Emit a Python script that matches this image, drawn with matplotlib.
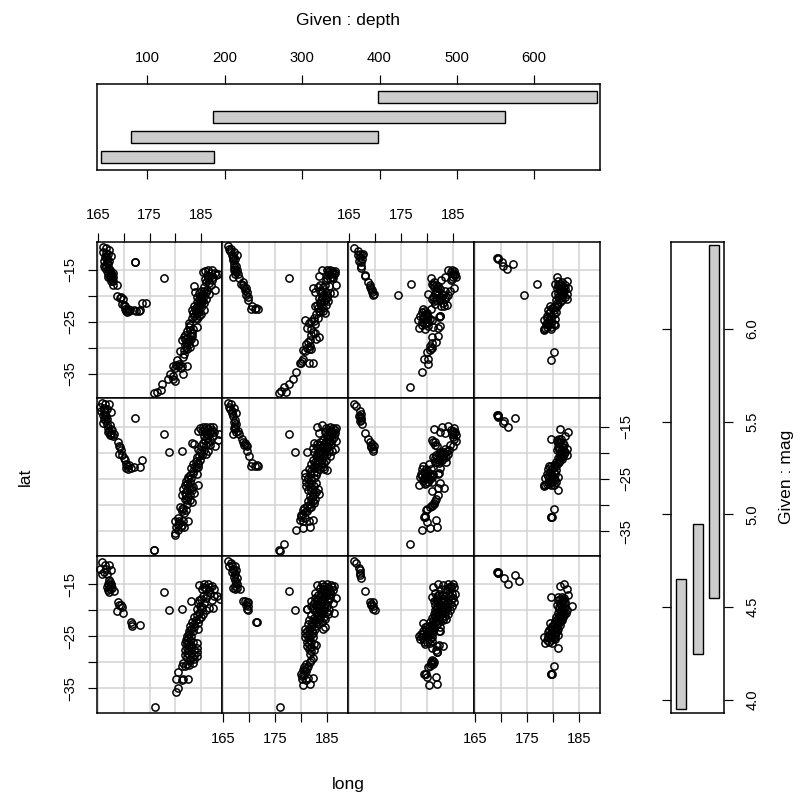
import matplotlib
matplotlib.use("Agg")
import matplotlib.pyplot as plt

plt.rcParams['font.family'] = ['Liberation Sans', 'DejaVu Sans']

# (long, lat) per panel, row 1 is the top row
p11 = [(166.0,-10.7),(166.6,-10.9),(167.2,-11.2),(166.0,-11.6),(166.5,-11.8),(167.0,-12.0),(167.6,-12.4),(166.3,-12.6),
       (166.8,-12.9),(166.2,-13.3),(166.7,-13.6),(167.1,-13.4),(166.1,-14.2),(166.6,-14.3),(166.9,-14.6),(167.2,-14.9),
       (166.8,-15.2),(167.3,-15.4),(167.6,-15.6),(167.0,-15.9),(167.4,-16.2),(167.8,-16.1),(167.3,-16.6),(167.7,-16.8),
       (168.0,-16.4),(167.6,-17.2),(168.0,-17.2),(167.9,-18.0),(168.7,-18.0),(168.7,-20.1),(169.4,-20.2),(169.8,-20.7),
       (169.6,-21.5),(170.0,-21.8),(170.3,-22.5),(170.6,-23.1),(171.3,-22.8),(171.9,-22.8),(172.9,-23.0),(173.2,-22.8),
       (173.5,-21.4),(174.3,-21.3),(170.5,-22.9),(169.2,-20.4),(172.2,-13.5),(172.2,-13.6),(177.8,-16.5),
       (188.3,-15.8),(187.7,-15.6),(187.0,-15.1),(186.4,-15.1),(185.7,-15.3),(186.1,-16.0),(186.7,-16.2),(187.3,-16.4),
       (186.4,-16.7),(187.0,-17.0),(185.7,-16.7),(186.9,-18.0),(187.6,-18.9),(183.6,-18.2),(183.8,-19.2),(184.9,-19.0),
       (185.9,-19.3),(186.5,-19.6),(185.2,-19.9),(184.6,-20.6),(185.9,-20.6),(184.2,-21.2),(185.2,-21.2),(183.6,-21.9),
       (184.6,-22.2),(185.5,-22.8),(183.3,-22.8),(184.2,-23.5),(183.6,-23.8),(184.9,-23.5),(184.2,-24.5),(182.6,-25.3),
       (182.9,-25.7),(184.1,-26.1),(182.3,-26.8),(183.3,-27.1),(181.6,-28.0),(182.3,-28.1),(183.3,-27.8),(181.3,-28.5),
       (182.6,-29.2),(183.6,-28.9),(181.9,-29.5),(182.9,-29.8),(180.9,-30.7),(181.6,-31.2),(182.3,-30.3),(181.5,-31.8),
       (180.4,-32.4),(179.5,-33.5),(180.7,-33.2),(181.3,-33.6),(182.3,-33.5),(179.9,-33.9),(179.0,-35.0),(181.4,-35.0),
       (179.6,-35.5),(180.0,-36.3),(179.6,-36.1),(178.5,-36.1),(177.5,-37.05),(177.2,-38.2),(176.4,-38.5),(175.8,-38.7),
       (184.0,-22.4),(185.0,-20.0),(184.5,-21.4),(183.9,-23.0),(184.6,-23.0),(186.2,-18.8),(185.4,-20.4)]
e11 = [(185.3,-15.5),(186.9,-15.6),(187.9,-16.0),(186.3,-16.3),(185.9,-17.4),(186.6,-17.6),(185.6,-18.4),(184.6,-19.5),
       (185.5,-19.1),(184.1,-20.3),(185.1,-20.8),(184.8,-21.8),(183.8,-22.6),(184.4,-22.8),(183.5,-23.3),(184.5,-23.9),
       (183.3,-24.2),(183.9,-24.3),(182.6,-26.0),(183.4,-26.3),(182.8,-26.6),(181.9,-27.5),(182.8,-27.5),(181.9,-28.4),
       (182.6,-28.5),(183.0,-28.3),(182.2,-29.1),(181.6,-30.5),(182.0,-29.9),(180.6,-33.6),(180.1,-33.4),(181.0,-33.9),
       (166.5,-12.4),(166.9,-13.9),(166.4,-14.7),(167.4,-15.0),(167.0,-16.4),(167.9,-15.7),(170.2,-22.0),(170.9,-22.6),
       (171.0,-23.0),(172.3,-22.9),(184.3,-23.1),(185.0,-22.2),(185.5,-21.4),(184.9,-20.5)]
p12 = [(166.0,-10.5),(166.5,-11.1),(167.1,-11.6),(166.1,-11.0),(166.6,-12.2),(167.6,-12.1),(166.9,-13.2),(167.4,-14.2),
       (167.1,-15.1),(167.8,-15.8),(166.9,-16.4),(168.0,-16.6),(168.5,-17.7),(169.0,-18.3),(169.5,-19.3),(169.7,-20.3),
       (169.8,-20.9),(170.6,-21.9),(170.3,-22.6),(171.2,-22.6),(171.7,-22.5),(171.4,-22.4),(167.0,-13.8),(167.3,-14.8),
       (167.5,-15.4),(166.8,-12.7),(168.8,-18.0),(169.2,-18.8),(169.4,-19.8),(177.7,-16.5),
       (184.1,-15.0),(183.4,-16.2),(184.9,-15.1),(185.5,-15.1),(186.0,-15.2),(186.6,-15.2),(186.4,-15.9),(185.6,-15.8),
       (184.9,-16.0),(186.2,-16.6),(185.5,-16.6),(184.7,-17.0),(186.8,-17.9),(186.3,-19.4),(182.3,-18.5),(182.6,-19.2),
       (183.3,-18.3),(184.2,-18.4),(185.3,-18.2),(184.0,-19.3),(184.8,-19.3),(185.5,-19.4),(185.0,-20.2),(184.1,-20.2),
       (183.5,-20.5),(184.4,-21.1),(185.2,-21.0),(183.6,-21.4),(182.6,-21.9),(183.3,-22.4),(184.2,-22.4),(183.7,-23.2),
       (184.6,-23.3),(182.8,-23.6),(183.3,-24.2),(180.8,-24.6),(182.4,-24.8),(181.6,-25.2),(181.2,-26.2),(182.6,-25.4),
       (181.9,-26.3),(182.0,-27.6),(182.6,-27.2),(183.5,-28.0),(181.8,-28.5),(182.9,-28.4),(181.0,-29.2),(181.8,-29.6),
       (182.0,-30.3),(180.4,-30.5),(181.1,-30.0),(180.4,-32.2),(179.8,-33.0),(180.1,-32.6),(179.9,-32.9),(182.3,-33.0),
       (181.5,-33.0),(179.1,-34.7),(178.5,-36.1),(177.6,-37.0),(176.7,-37.6),(176.2,-38.4),(175.8,-38.7),(177.1,-38.5)]
e12 = [(166.3,-11.4),(166.9,-12.4),(167.2,-13.0),(167.1,-14.5),(167.6,-15.0),(167.3,-15.9),(168.8,-17.4),(169.4,-18.5),
       (185.2,-15.5),(185.9,-15.6),(186.6,-15.7),(185.9,-16.3),(185.0,-16.6),(183.7,-17.9),(184.6,-17.9),(183.6,-19.0),
       (184.3,-19.8),(184.9,-19.8),(183.9,-20.9),(184.7,-20.7),(183.1,-21.8),(183.9,-21.9),(184.7,-21.8),(183.4,-22.9),
       (184.2,-23.0),(182.4,-24.2),(181.9,-24.9),(182.2,-26.9),(181.4,-28.9),(181.5,-30.2),(180.7,-30.7)]
p13 = [(166.0,-10.8),(166.7,-11.3),(167.6,-11.9),(166.7,-12.2),(167.1,-12.6),(167.4,-13.0),(166.9,-13.4),(167.3,-14.2),
       (167.2,-14.7),(168.0,-16.1),(168.1,-16.2),(168.6,-17.4),(169.0,-18.0),(169.2,-18.7),(169.4,-19.3),(169.7,-19.6),
       (169.6,-19.9),(177.0,-17.7),(174.4,-19.9),(180.3,-19.7),(184.1,-15.0),(180.8,-16.5),(184.7,-15.4),(185.4,-15.8),
       (185.7,-16.4),(185.1,-16.4),(184.6,-17.0),(183.5,-16.3),(182.7,-17.0),(181.0,-17.7),(181.4,-18.3),(181.9,-19.0),
       (182.5,-18.7),(183.5,-19.0),(185.3,-18.5),(184.4,-19.0),(184.1,-19.8),(183.1,-19.9),(182.2,-19.9),(181.2,-20.3),
       (181.7,-20.9),(182.5,-20.9),(183.5,-20.6),(183.8,-21.7),(182.8,-22.0),(181.5,-21.5),(184.9,-15.0),(185.0,-15.8),
       (181.3,-17.4),(181.7,-18.0),(182.2,-18.2),(182.9,-19.6),(181.6,-19.6),(180.9,-20.7),(183.2,-21.3),(183.3,-22.0),
       (179.2,-22.6),(180.7,-22.6),(179.6,-23.5),(178.7,-23.8),(178.3,-24.6),(179.3,-24.4),(180.3,-24.1),(179.6,-25.4),
       (180.3,-25.0),(178.5,-26.2),(179.7,-26.3),(181.2,-26.0),(182.5,-25.8),(182.1,-26.2),(182.5,-23.9),(182.4,-24.0),
       (182.6,-23.8),(180.9,-24.7),(179.0,-23.2),(180.0,-23.3),(179.0,-25.0),(179.9,-24.5),(181.0,-28.0),
       (182.1,-27.8),(181.7,-28.9),(180.9,-29.0),(181.0,-30.0),(180.1,-30.8),(180.6,-30.5),(179.5,-32.2),(180.3,-32.2),
       (180.3,-33.2),(179.1,-34.7),(176.7,-37.6)]
e13 = [(167.1,-12.0),(167.4,-12.2),(167.2,-13.6),(169.1,-18.3),(169.4,-18.9),(185.3,-15.2),(185.5,-16.1),(184.9,-16.7),
       (181.2,-17.9),(182.0,-18.6),(181.8,-19.3),(182.7,-20.4),(183.7,-20.2),(182.0,-20.4),(181.4,-21.0),(179.7,-23.0),
       (180.1,-23.9),(179.2,-24.0),(179.9,-25.1),(180.6,-24.5),(179.1,-25.7),(180.2,-25.8),(180.8,-30.1),(180.5,-29.6)]
p14 = [(169.4,-12.8),(169.5,-13.0),(169.3,-12.7),(170.3,-13.5),(170.4,-14.3),(171.2,-14.9),(172.4,-13.9),(176.9,-17.7),
       (174.4,-19.9),(180.7,-16.4),(182.6,-17.1),(180.3,-17.7),(181.0,-18.0),(181.7,-17.4),(182.3,-18.0),(182.8,-18.5),
       (180.4,-19.6),(181.3,-19.0),(182.0,-19.3),(182.6,-19.6),(182.6,-20.6),(181.7,-20.9),(181.0,-21.5),(180.4,-21.9),
       (179.4,-21.9),(179.1,-22.8),(180.1,-22.8),(178.8,-23.8),(179.7,-23.8),(178.3,-24.7),(179.2,-24.7),(180.4,-24.4),
       (180.1,-25.4),(179.1,-25.7),(180.4,-25.7),(178.3,-26.5),(178.3,-26.4),(178.4,-26.2),(179.7,-26.3),(180.1,-30.8),
       (179.6,-32.3),(181.0,-17.2),(181.5,-18.6),(180.7,-18.6),(181.8,-20.1),(181.0,-20.3),(180.6,-20.8),(180.0,-22.3),
       (179.5,-23.2),(180.5,-23.2),(179.0,-25.2),(179.6,-26.0),(182.2,-19.0),(181.3,-19.8)]
e14 = [(181.4,-17.8),(181.9,-18.4),(181.1,-18.5),(182.3,-18.7),(182.0,-19.8),(182.3,-20.2),(181.4,-20.5),(181.4,-21.2),
       (180.7,-22.0),(180.8,-21.3),(179.8,-22.4),(179.2,-23.3),(180.1,-23.6),(178.9,-24.3),(179.7,-24.5),(179.7,-25.3),
       (178.7,-25.4),(178.8,-26.0),(181.6,-19.2),(180.9,-19.4)]
p21 = [(165.8,-10.5),(166.4,-10.7),(167.1,-10.8),(165.5,-11.2),(166.2,-11.4),(166.8,-11.6),(165.6,-12.0),(166.4,-12.3),
       (167.6,-12.2),(165.9,-12.8),(166.6,-13.0),(166.2,-13.5),(166.8,-13.6),(166.0,-14.3),(166.7,-14.5),(167.3,-14.7),
       (167.0,-15.3),(167.5,-15.5),(167.0,-16.0),(167.6,-16.2),(168.1,-16.4),(167.3,-16.7),(167.9,-16.9),(168.8,-18.0),
       (169.0,-18.8),(169.5,-19.4),(169.0,-20.2),(169.7,-20.5),(170.3,-21.3),(170.5,-22.2),(170.4,-23.0),(170.8,-23.2),
       (171.4,-23.0),(171.9,-22.7),(170.7,-22.6),(171.0,-22.4),(172.2,-13.4),(177.8,-16.4),(178.8,-19.9),(181.3,-19.7),
       (183.3,-18.2),(183.6,-18.3),(173.5,-21.3),(173.2,-22.8),
       (184.4,-15.8),(184.7,-15.2),(185.3,-15.1),(186.0,-15.0),(186.7,-15.0),(187.3,-15.1),(185.2,-15.9),(186.0,-15.9),
       (186.8,-15.9),(187.5,-16.0),(188.4,-16.5),(185.5,-16.8),(186.4,-16.7),(187.3,-16.9),(188.2,-17.6),(186.7,-17.6),
       (185.7,-17.6),(187.6,-18.8),(186.8,-18.6),(185.9,-18.6),(185.0,-18.7),(184.3,-19.3),(185.6,-19.5),(186.4,-19.6),
       (185.2,-20.4),(184.5,-20.6),(184.8,-21.3),(183.9,-21.5),(183.4,-22.2),(184.4,-22.2),(183.1,-23.0),(184.0,-23.0),
       (183.4,-23.8),(184.1,-24.0),(182.4,-24.6),(183.1,-24.8),(182.0,-25.4),(182.8,-25.6),(184.3,-26.1),(181.8,-26.2),
       (182.6,-26.4),(183.5,-26.5),(181.5,-27.0),(182.3,-27.2),(183.3,-27.2),(181.3,-28.0),(182.0,-28.0),(182.9,-28.0),
       (183.7,-27.7),(181.8,-28.8),(182.8,-29.0),(183.2,-29.4),(182.2,-29.7),(180.9,-30.3),(181.5,-30.5),(182.0,-31.0),
       (181.2,-31.2),(181.6,-31.5),(180.5,-32.5),(179.9,-33.0),(180.8,-33.0),(181.4,-33.0),(182.5,-33.0),(180.5,-33.8),
       (181.2,-33.8),(181.7,-34.2),(180.6,-34.7),(179.9,-35.7),(180.0,-35.4),(175.8,-38.6),(175.9,-38.6)]
e21 = [(166.1,-11.9),(166.3,-12.8),(166.5,-14.0),(167.2,-15.9),(167.8,-15.7),(167.6,-16.6),(169.3,-19.0),(170.0,-21.0),
       (185.6,-15.5),(186.4,-15.5),(187.1,-15.6),(186.7,-16.3),(186.0,-16.4),(186.2,-17.2),(185.3,-18.1),(186.3,-18.0),
       (184.7,-19.6),(185.0,-20.0),(185.9,-20.2),(184.2,-20.8),(184.4,-21.9),(183.8,-22.5),(184.4,-22.7),(183.5,-23.4),
       (182.9,-24.3),(182.4,-25.1),(182.3,-25.9),(182.9,-26.9),(181.9,-27.6),(182.5,-28.4),(182.3,-29.0),(181.3,-30.8),
       (180.7,-33.4),(181.0,-34.1),(180.2,-34.2)]
p22 = [(166.0,-10.5),(166.5,-10.8),(167.1,-11.5),(166.1,-11.3),(166.6,-12.1),(167.5,-12.4),(166.9,-13.0),(167.3,-13.8),
       (167.5,-14.6),(167.0,-15.3),(166.9,-16.4),(167.9,-15.8),(168.0,-16.5),(168.6,-17.3),(169.2,-18.2),(169.6,-18.8),
       (169.0,-18.5),(169.5,-19.6),(170.0,-20.6),(170.6,-21.9),(170.3,-22.6),(171.2,-22.5),(171.7,-22.5),(171.5,-22.4),
       (177.7,-16.4),(178.8,-19.9),(181.2,-19.8),
       (183.1,-15.1),(184.1,-14.8),(183.5,-16.3),(184.8,-15.2),(185.5,-15.1),(186.2,-15.2),(186.8,-15.2),(184.6,-16.0),
       (185.4,-16.0),(186.1,-16.1),(186.6,-16.2),(184.9,-16.9),(185.6,-16.9),(186.3,-17.0),(186.8,-17.8),(185.5,-17.7),
       (184.7,-17.8),(183.7,-18.0),(182.5,-18.2),(183.0,-18.3),(186.5,-19.3),(185.7,-18.6),(184.9,-18.7),(184.0,-18.9),
       (183.1,-19.0),(182.3,-19.1),(182.4,-19.8),(183.4,-19.8),(184.5,-19.6),(185.3,-19.7),(186.0,-19.6),(185.5,-20.6),
       (184.5,-20.5),(183.6,-20.5),(182.8,-20.6),(182.3,-21.4),(183.2,-21.4),(184.1,-21.4),(184.8,-21.4),(182.0,-22.2),
       (182.9,-22.2),(183.8,-22.2),(184.9,-23.3),(184.4,-23.2),(183.4,-23.2),(182.4,-23.0),(181.5,-23.2),(180.8,-23.8),
       (181.8,-24.0),(182.8,-24.2),(180.7,-24.6),(181.4,-24.8),(182.4,-24.9),(181.0,-25.6),(182.0,-25.7),(182.8,-25.7),
       (181.0,-26.3),(181.8,-26.5),(181.4,-27.2),(182.3,-27.0),(183.2,-26.9),(183.5,-27.8),(182.4,-27.8),(181.7,-28.2),
       (182.0,-28.8),(182.7,-28.8),(182.5,-29.6),(181.7,-29.8),(181.2,-30.2),(180.6,-30.6),(181.6,-30.6),(180.3,-31.0),
       (181.1,-31.1),(180.4,-31.7),(179.9,-32.2),(179.8,-32.9),(180.3,-33.1),(180.7,-32.5),(181.5,-33.0),(182.3,-32.9),
       (181.8,-34.2),(180.4,-34.4),(179.0,-34.7),(176.7,-37.4),(175.8,-38.6),(175.9,-38.7)]
e22 = [(166.4,-11.6),(166.7,-12.5),(167.0,-14.2),(167.3,-14.9),(167.3,-15.5),(167.5,-16.1),(169.3,-18.6),(168.9,-17.9),
       (185.1,-15.6),(185.8,-15.6),(186.5,-15.7),(185.1,-16.4),(185.9,-16.5),(186.0,-17.5),(185.2,-17.3),(184.2,-17.6),
       (183.6,-18.5),(184.4,-18.4),(185.3,-18.2),(183.7,-19.4),(184.9,-19.1),(184.0,-19.9),(183.2,-20.1),(184.9,-20.2),
       (183.0,-20.9),(184.3,-20.9),(182.7,-21.7),(183.5,-21.8),(184.4,-21.9),(182.5,-22.6),(183.3,-22.7),(184.2,-22.7),
       (181.9,-23.5),(182.4,-23.6),(183.1,-23.7),(182.0,-25.1),(181.5,-26.0),(182.4,-26.3),(181.9,-27.3),(182.9,-27.4),
       (182.2,-28.2),(182.2,-29.2),(181.4,-29.2),(181.9,-30.3),(180.8,-31.4),(180.0,-31.9)]
p23 = [(166.0,-10.7),(166.4,-11.0),(167.0,-12.0),(167.2,-12.6),(166.9,-13.0),(167.2,-13.4),(167.0,-14.0),(167.4,-14.5),
       (168.1,-16.3),(168.6,-17.4),(169.0,-17.9),(169.4,-18.4),(169.7,-18.8),(169.2,-19.0),(169.5,-19.7),
       (181.3,-15.4),(183.0,-15.1),(184.1,-14.9),(185.2,-15.3),(184.6,-15.7),(185.4,-16.0),(184.8,-16.5),(185.6,-16.6),
       (182.6,-16.0),(183.5,-16.2),(185.3,-17.3),(185.6,-17.8),(181.0,-17.6),(181.5,-18.0),(182.0,-18.7),(184.4,-18.5),
       (185.0,-18.8),(183.5,-19.3),(184.3,-19.5),(182.6,-19.8),(183.4,-20.1),(184.1,-20.2),(181.8,-20.4),(182.6,-20.6),
       (183.6,-20.9),(181.2,-20.9),(182.0,-21.2),(182.9,-21.4),(183.6,-21.7),(181.5,-21.8),(182.4,-22.0),
       (179.2,-22.5),(180.4,-22.2),(179.0,-23.2),(179.9,-23.2),(180.8,-23.2),(182.6,-23.0),(182.4,-23.8),(182.2,-24.0),
       (178.8,-24.0),(179.6,-24.0),(180.5,-24.0),(181.2,-24.0),(178.7,-24.7),(179.4,-24.8),(180.3,-24.8),(181.0,-24.6),
       (179.3,-25.4),(180.2,-25.5),(181.0,-25.6),(178.5,-26.2),(179.6,-26.0),(182.6,-25.7),(183.3,-26.7),(181.0,-27.3),
       (182.2,-26.8),(182.1,-28.1),(181.7,-28.8),(181.5,-29.3),(181.0,-30.0),(181.3,-29.8),(180.6,-30.4),(180.1,-30.8),
       (179.9,-30.9),(179.6,-32.2),(179.5,-32.3),(179.7,-32.1),(181.7,-32.8),(180.1,-33.2),(181.9,-34.2),(180.5,-34.4),
       (179.1,-34.7),(176.7,-37.5)]
e23 = [(167.1,-12.9),(167.2,-13.8),(169.3,-18.7),(169.5,-19.2),(185.0,-15.8),(185.3,-16.3),(185.1,-17.0),(181.2,-18.0),
       (181.6,-18.5),(182.9,-20.2),(183.2,-19.8),(183.9,-19.7),(182.3,-20.2),(181.6,-21.0),(182.4,-21.3),(183.2,-21.1),
       (182.0,-21.8),(179.4,-23.6),(180.3,-23.6),(179.0,-24.4),(179.9,-24.4),(180.7,-24.4),(179.7,-25.1),(180.6,-25.0),
       (179.8,-25.7),(181.3,-29.5),(180.9,-30.2)]
p24 = [(169.4,-12.9),(169.5,-13.1),(169.3,-12.8),(169.5,-12.8),(170.6,-13.9),(170.4,-14.4),(171.3,-15.0),(172.7,-13.3),
       (181.3,-15.4),(182.8,-16.0),(182.4,-16.9),(179.6,-17.4),(180.8,-17.6),(181.5,-17.4),(181.0,-18.2),(181.9,-18.1),
       (181.2,-18.9),(182.0,-19.0),(182.7,-19.2),(180.8,-19.5),(181.6,-19.7),(182.4,-19.9),(182.7,-20.4),(181.3,-20.4),
       (182.0,-20.7),(181.0,-21.1),(181.8,-21.2),(180.6,-21.7),(181.2,-21.8),(179.3,-22.5),(180.1,-22.3),(180.6,-22.6),
       (179.0,-23.2),(179.8,-23.2),(180.5,-23.3),(178.9,-24.0),(179.6,-24.0),(180.3,-24.1),(178.5,-24.8),(179.3,-24.8),
       (180.1,-24.8),(180.9,-24.7),(179.0,-25.5),(179.8,-25.6),(180.6,-25.5),(178.3,-26.2),(178.3,-26.3),(178.4,-26.1),
       (179.6,-26.2),(180.2,-26.1),(180.9,-27.2),(180.1,-30.7),(179.7,-32.2),(179.6,-32.3),(179.8,-32.2)]
e24 = [(181.1,-17.3),(181.4,-17.9),(180.9,-17.9),(181.6,-18.5),(182.2,-18.6),(181.0,-19.0),(181.9,-19.4),(181.2,-19.5),
       (182.1,-20.2),(181.6,-20.3),(181.4,-20.9),(181.3,-21.4),(180.9,-21.9),(180.4,-22.4),(179.7,-22.6),(179.4,-23.6),
       (180.2,-23.7),(179.0,-24.4),(179.9,-24.4),(179.4,-25.2),(180.3,-25.2),(179.3,-26.0),(178.8,-25.9)]
p31 = [(165.7,-10.7),(166.3,-11.3),(167.2,-11.3),(165.5,-12.0),(166.5,-12.0),(167.6,-12.3),(165.7,-13.0),(166.8,-13.1),
       (166.2,-12.6),(167.1,-14.2),(167.6,-14.9),(166.8,-15.5),(167.8,-15.8),(167.2,-16.5),(168.1,-16.3),(167.0,-14.9),
       (167.4,-15.4),(167.0,-16.2),(168.9,-18.5),(169.4,-19.0),(169.7,-19.4),(168.7,-20.2),(169.8,-20.6),(169.1,-18.9),
       (171.5,-22.2),(171.7,-23.1),(171.6,-22.6),(173.2,-22.8),(177.8,-16.5),(178.8,-20.0),(181.3,-19.8),(183.1,-18.3),
       (176.0,-38.6),
       (184.6,-15.2),(185.6,-15.0),(186.3,-15.0),(187.0,-15.4),(187.4,-16.0),(185.2,-16.0),(186.0,-15.9),(186.6,-16.2),
       (186.2,-17.0),(187.4,-17.2),(188.7,-17.8),(188.0,-17.2),(185.0,-17.8),(186.0,-17.7),(187.0,-18.0),(184.3,-18.6),
       (185.6,-18.6),(187.3,-19.6),(186.5,-19.6),(184.2,-19.8),(185.0,-19.8),(185.9,-20.0),(184.6,-20.6),(185.4,-20.8),
       (183.6,-21.3),(184.6,-21.6),(183.2,-22.3),(184.3,-22.4),(182.9,-23.0),(183.7,-23.2),(184.4,-23.6),(182.6,-23.9),
       (183.4,-24.0),(182.3,-24.9),(183.0,-24.9),(182.0,-25.7),(182.9,-25.8),(182.2,-26.5),(183.0,-26.6),(184.2,-26.3),
       (182.2,-27.3),(183.0,-27.3),(184.1,-27.2),(182.3,-28.2),(183.1,-28.2),(184.1,-28.0),(182.3,-29.0),(183.2,-29.0),
       (184.2,-28.7),(181.5,-30.1),(182.3,-30.3),(183.4,-30.1),(180.6,-31.9),(181.2,-30.6),(180.1,-33.1),(181.5,-33.1),
       (182.5,-33.1),(181.3,-33.4),(180.6,-34.9),(180.1,-35.7)]
e31 = [(167.3,-14.6),(167.5,-15.2),(167.4,-16.0),(185.5,-15.5),(186.7,-15.6),(186.8,-16.7),(185.4,-17.3),(184.6,-18.1),
       (184.7,-19.2),(185.2,-19.3),(184.2,-21.0),(185.0,-21.2),(183.9,-21.9),(183.6,-22.7),(183.1,-23.6),(182.6,-24.5),
       (182.5,-25.4),(182.5,-26.1),(182.6,-26.9),(182.5,-27.7),(182.6,-28.6),(182.8,-29.6),(181.9,-30.6),(182.7,-30.5),
       (183.5,-26.0),(183.6,-27.7),(181.8,-26.2),(181.9,-27.7),(181.9,-28.6),(183.7,-28.6),(183.6,-29.4)]
p32 = [(166.0,-10.6),(166.5,-10.9),(167.3,-11.5),(166.1,-11.5),(166.9,-12.0),(167.5,-12.3),(166.7,-12.7),(167.3,-13.0),
       (167.0,-13.6),(167.6,-13.9),(167.4,-14.6),(167.6,-15.0),(166.9,-15.7),(167.6,-15.8),(168.2,-15.9),(168.9,-18.2),
       (169.2,-18.2),(169.7,-18.4),(169.3,-18.9),(169.7,-19.1),(169.5,-19.7),(169.8,-20.0),(171.4,-22.2),(171.5,-22.3),
       (177.7,-16.4),(178.8,-20.0),(181.2,-19.8),(176.0,-38.6),
       (183.0,-15.2),(184.0,-15.0),(184.9,-15.0),(185.7,-15.2),(186.4,-15.4),(183.7,-15.8),(184.5,-15.9),(185.3,-16.0),
       (186.1,-16.1),(182.7,-16.7),(183.8,-16.6),(184.9,-16.7),(185.8,-16.8),(186.7,-17.6),(182.6,-17.6),(183.6,-17.5),
       (184.6,-17.5),(185.6,-17.6),(181.9,-18.2),(183.0,-18.3),(184.1,-18.3),(185.2,-18.3),(186.2,-18.7),(181.9,-19.2),
       (182.9,-19.1),(183.9,-19.2),(185.0,-19.2),(181.2,-19.8),(182.4,-20.0),(183.4,-20.0),(184.4,-20.0),(185.3,-20.0),
       (186.4,-20.6),(182.0,-20.9),(183.0,-20.9),(184.0,-20.8),(185.1,-20.8),(181.6,-21.8),(182.6,-21.8),(183.6,-21.7),
       (184.6,-21.6),(181.3,-22.7),(182.3,-22.6),(183.3,-22.6),(184.6,-23.3),(180.8,-23.5),(181.7,-23.5),(182.6,-23.5),
       (184.2,-23.5),(180.8,-24.4),(181.6,-24.4),(182.3,-24.3),(180.8,-25.2),(181.6,-25.2),(182.2,-25.2),(181.1,-26.0),
       (181.9,-26.1),(181.1,-26.9),(182.0,-27.0),(182.9,-26.7),(182.4,-27.7),(181.8,-28.4),(182.2,-29.2),(181.7,-30.0),
       (181.0,-30.3),(180.6,-30.8),(181.2,-31.1),(180.3,-31.5),(180.8,-31.5),(179.9,-32.2),(180.5,-32.4),(180.2,-33.1),
       (181.4,-33.0),(182.2,-33.0),(181.0,-33.4),(180.4,-34.4),(181.8,-34.2)]
e32 = [(166.6,-11.4),(167.0,-12.4),(167.2,-14.2),(167.3,-15.3),(167.2,-16.0),(169.5,-18.5),(184.4,-15.4),(185.1,-15.5),
       (185.9,-15.6),(184.2,-16.2),(185.0,-16.3),(185.6,-16.4),(183.3,-17.0),(184.4,-17.1),(185.3,-17.1),(183.1,-17.8),
       (184.1,-17.9),(185.1,-17.8),(182.5,-18.7),(183.5,-18.8),(184.6,-18.8),(182.3,-19.6),(183.4,-19.5),(184.5,-19.5),
       (182.9,-20.4),(183.9,-20.3),(184.9,-20.4),(182.5,-21.4),(183.5,-21.3),(184.5,-21.2),(182.1,-22.2),(183.1,-22.2),
       (184.1,-22.2),(181.9,-23.0),(182.9,-23.0),(181.2,-24.0),(182.1,-23.9),(181.2,-24.8),(181.9,-24.8),(181.5,-25.7),
       (181.5,-26.5),(182.5,-26.4),(181.6,-27.4),(182.0,-27.9),(181.9,-29.6),(181.4,-30.7),(181.0,-31.6),(180.2,-32.6)]
p33 = [(166.0,-10.6),(166.3,-10.9),(166.9,-11.9),(167.0,-12.2),(167.1,-12.9),(167.0,-13.3),(167.2,-13.9),(168.1,-16.3),
       (169.0,-18.5),(169.5,-18.5),(169.2,-19.0),(169.6,-19.2),(169.6,-19.8),(169.9,-19.9),(169.3,-18.8),
       (181.1,-15.5),(182.1,-15.0),(183.2,-15.2),(184.0,-15.0),(185.0,-15.0),(185.3,-15.6),(184.6,-15.8),(182.8,-16.0),
       (183.9,-16.2),(185.4,-16.9),(184.8,-16.9),(181.5,-16.7),(182.4,-16.8),(183.2,-17.0),(181.0,-17.5),(182.0,-17.7),
       (183.0,-17.7),(184.0,-17.7),(185.1,-17.7),(181.3,-18.3),(182.2,-18.5),(183.1,-18.5),(184.1,-18.5),(185.2,-18.4),
       (182.0,-19.3),(182.9,-19.3),(183.8,-19.3),(184.8,-19.2),(181.6,-20.0),(182.5,-20.0),(183.4,-20.0),(184.4,-20.0),
       (181.3,-20.7),(182.2,-20.7),(183.0,-20.8),(184.0,-20.8),(181.0,-21.5),(181.9,-21.5),(182.9,-21.5),(183.7,-21.6),
       (180.6,-22.3),(181.6,-22.2),(182.4,-22.3),(179.2,-22.5),(180.0,-23.0),(180.9,-23.0),(182.5,-23.2),(179.8,-23.7),
       (180.6,-23.7),(181.3,-23.6),(182.5,-24.0),(182.3,-23.9),(179.3,-24.5),(180.2,-24.4),(181.0,-24.5),(178.4,-25.0),
       (179.1,-25.2),(180.0,-25.2),(180.9,-25.1),(179.4,-26.0),(180.1,-26.0),(181.0,-25.9),(181.0,-27.3),(183.2,-26.8),
       (182.3,-26.6),(181.9,-26.9),(181.7,-27.6),(181.9,-28.1),(182.0,-28.0),(181.0,-29.5),(181.3,-29.9),(180.8,-30.0),
       (181.1,-30.3),(180.2,-30.9),(180.6,-30.7),(179.6,-32.3),(179.8,-32.2),(179.5,-32.2),(180.1,-32.8),(181.7,-32.8),
       (181.9,-34.1),(180.4,-34.4)]
e33 = [(184.7,-15.3),(184.2,-15.6),(183.5,-16.0),(184.3,-16.7),(181.9,-17.2),(183.6,-17.3),(184.5,-17.2),(181.7,-18.0),
       (182.6,-18.0),(183.5,-18.0),(184.6,-18.0),(181.6,-18.9),(182.5,-18.9),(183.4,-18.9),(184.4,-18.8),(182.0,-19.7),
       (183.0,-19.7),(183.9,-19.7),(181.8,-20.4),(182.7,-20.4),(183.5,-20.4),(181.5,-21.1),(182.4,-21.1),(183.4,-21.1),
       (181.2,-21.9),(182.1,-21.9),(183.1,-21.9),(180.9,-22.6),(181.9,-22.7),(179.6,-23.3),(180.4,-23.3),(181.2,-23.2),
       (179.2,-24.0),(180.2,-24.0),(180.9,-24.0),(178.9,-24.6),(179.8,-24.7),(180.6,-24.8),(179.5,-25.5),(180.5,-25.5),
       (178.7,-25.5),(179.7,-26.4),(180.6,-26.3),(181.2,-29.7),(180.7,-30.3)]
p34 = [(169.4,-12.8),(169.5,-12.9),(169.3,-12.7),(169.5,-12.7),(170.6,-13.8),(171.3,-14.9),(172.7,-13.3),(173.4,-14.3),
       (181.3,-15.4),(182.1,-15.0),(182.6,-15.9),(182.9,-17.0),(179.6,-17.4),(183.7,-19.2),
       (180.9,-17.4),(181.7,-17.4),(182.2,-17.7),(181.0,-18.1),(181.8,-18.2),(182.4,-18.5),(180.8,-19.0),(181.6,-19.0),
       (182.4,-19.3),(181.2,-19.8),(182.0,-19.9),(182.6,-20.0),(181.0,-20.6),(181.8,-20.7),(182.5,-20.6),(180.6,-21.3),
       (181.4,-21.3),(182.0,-21.3),(180.3,-22.0),(181.0,-22.0),(181.7,-21.9),(179.4,-22.5),(180.1,-22.7),(180.9,-22.7),
       (181.4,-22.8),(179.6,-23.4),(180.4,-23.4),(181.0,-23.5),(179.1,-24.1),(179.9,-24.1),(180.6,-24.2),(181.0,-24.7),
       (178.3,-25.1),(179.0,-24.9),(179.7,-25.0),(180.4,-24.9),(178.9,-25.7),(179.6,-25.7),(180.3,-25.6),(178.4,-26.2),
       (179.8,-26.3),(180.9,-27.2),(180.1,-30.7),(179.7,-32.2),(179.6,-32.3),(179.8,-32.2)]
e34 = [(181.3,-17.8),(182.0,-18.0),(181.4,-18.6),(182.1,-18.7),(181.2,-19.4),(182.0,-19.5),(181.5,-20.2),(182.2,-20.3),
       (181.3,-20.9),(182.1,-21.0),(180.8,-21.6),(181.6,-21.7),(180.7,-22.3),(181.4,-22.3),(179.9,-23.0),(180.7,-23.0),
       (179.3,-23.8),(180.1,-23.8),(180.8,-23.9),(179.4,-24.5),(180.3,-24.5),(179.3,-25.3),(180.1,-25.3),(179.2,-26.0)]

panels = [[p11 + e11, p12 + e12, p13 + e13, p14 + e14],
          [p21 + e21, p22 + e22, p23 + e23, p24 + e24],
          [p31 + e31, p32 + e32, p33 + e33, p34 + e34]]

long_ticks = [165, 170, 175, 180, 185]
long_labels = ['165', '', '175', '', '185']
lat_ticks = [-15, -20, -25, -30, -35]
lat_labels = ['\u221215', '', '\u221225', '', '\u221235']

depth_low = [39.5, 78.5, 184.5, 397.5]
depth_high = [186.5, 397.5, 562.5, 680.5]
depth_ticks = [100, 200, 300, 400, 500, 600]
mag_low = [3.95, 4.25, 4.55]
mag_high = [4.65, 4.95, 6.45]
mag_ticks = [4.0, 4.5, 5.0, 5.5, 6.0]

W, H = 800, 801
fig = plt.figure(figsize=(W / 100, H / 100), dpi=100)

TICK = 6.5
LW = 1.1
FS = 10.6


def px_axes(x0, x1, y0, y1):
    # pixel box, y measured from the top of the picture
    ax = fig.add_axes([x0 / W, 1 - y1 / H, (x1 - x0) / W, (y1 - y0) / H])
    for s in ax.spines.values():
        s.set_linewidth(LW)
    ax.tick_params(length=TICK, width=0.85, labelsize=FS, pad=7.5)
    return ax


x_edges = [96.7, 222, 348, 473.7, 600]
y_edges = [241.7, 398.2, 556, 713]

for r in range(3):
    for c in range(4):
        ax = px_axes(x_edges[c], x_edges[c + 1], y_edges[r], y_edges[r + 1])
        ax.set_xlim(164.77, 189.03)
        ax.set_ylim(-39.7, -9.6)
        ax.set_xticks(long_ticks)
        ax.set_yticks(lat_ticks)
        ax.grid(True, color='lightgray', lw=1.1)
        ax.set_axisbelow(True)
        lon = [p[0] for p in panels[r][c]]
        lat = [p[1] for p in panels[r][c]]
        ax.plot(lon, lat, 'o', mfc='none', mec='black', ms=5.2, mew=1.1, clip_on=False, zorder=3)

        # outer axes alternate like in R's coplot
        top = r == 0 and c % 2 == 0
        bottom = r == 2 and c % 2 == 1
        left = c == 0 and r % 2 == 0
        right = c == 3 and r % 2 == 1
        ax.tick_params(axis='x', top=top, labeltop=top, bottom=bottom, labelbottom=bottom)
        ax.tick_params(axis='y', left=left, labelleft=left, right=right, labelright=right)
        ax.set_xticklabels(long_labels)
        ax.set_yticklabels(lat_labels, rotation=90, va='center')

# depth shingle
ax = px_axes(96.5, 600, 84, 170)
ax.set_xlim(34.2, 685)
ax.set_ylim(0.37, 4.63)
ax.barh(range(1, 5), [h - l for l, h in zip(depth_low, depth_high)], left=depth_low, height=0.6,
        color='#CCCCCC', edgecolor='black', linewidth=1.0)
ax.set_xticks(depth_ticks)
ax.set_yticks([])
ax.tick_params(axis='x', top=True, labeltop=True, bottom=True, labelbottom=False)

# mag shingle
ax = px_axes(671, 724, 241.5, 713)
ax.set_xlim(0.41, 3.59)
ax.set_ylim(3.93, 6.47)
ax.bar(range(1, 4), [h - l for l, h in zip(mag_low, mag_high)], bottom=mag_low, width=0.6,
       color='#CCCCCC', edgecolor='black', linewidth=1.0)
ax.set_xticks([])
ax.set_yticks(mag_ticks)
ax.set_yticklabels(['%.1f' % m for m in mag_ticks], rotation=90, va='center')
ax.tick_params(axis='y', left=True, right=True, labelleft=False, labelright=True, pad=9)

# outer titles
fig.text(348 / W, 1 - 20 / H, 'Given : depth', ha='center', va='center', fontsize=12.6)
fig.text(348 / W, 1 - 785 / H, 'long', ha='center', va='center', fontsize=12.6)
fig.text(25 / W, 1 - 477 / H, 'lat', ha='center', va='center', rotation=90, fontsize=12.6)
fig.text(786 / W, 1 - 477 / H, 'Given : mag', ha='center', va='center', rotation=90, fontsize=12.6)

fig.savefig('out.png', dpi=100)
